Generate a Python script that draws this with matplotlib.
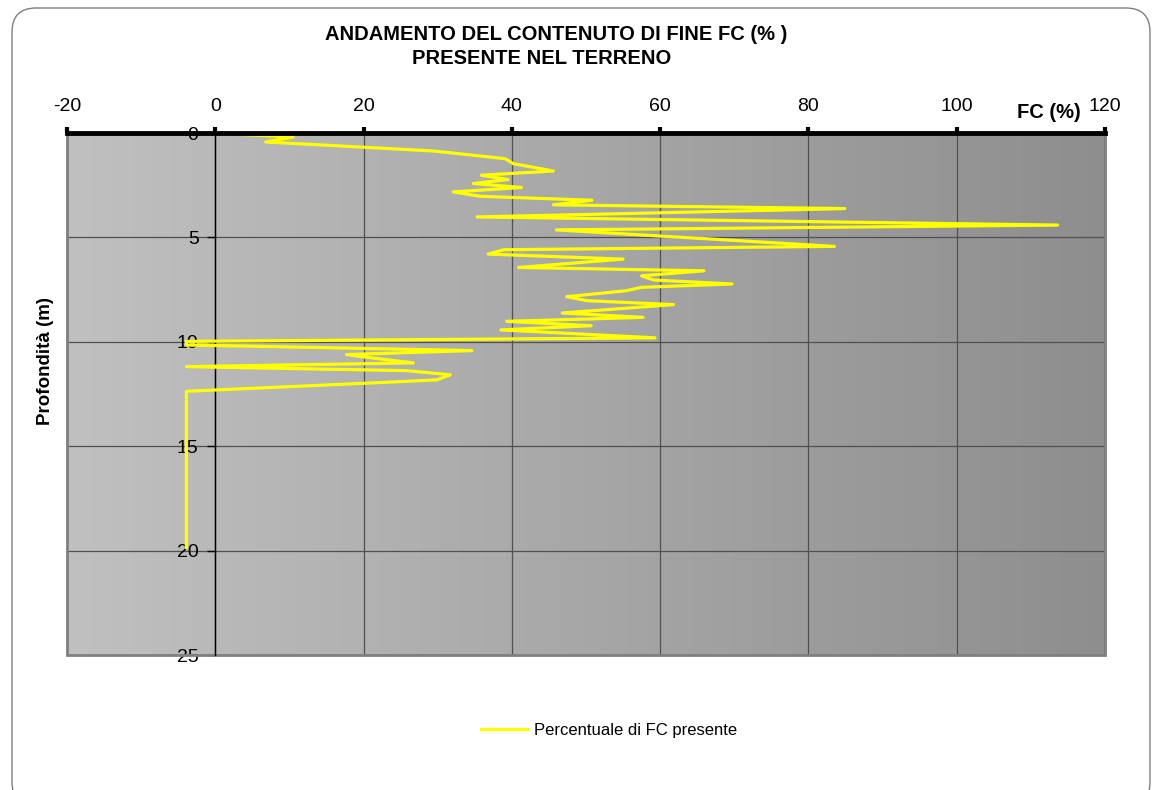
import numpy as np
import matplotlib
matplotlib.use("Agg")
import matplotlib.pyplot as plt
from matplotlib.patches import FancyBboxPatch, Rectangle
from matplotlib.colors import LinearSegmentedColormap

plt.rcParams['font.family'] = ['Liberation Sans', 'DejaVu Sans']
plt.rcParams['axes.unicode_minus'] = False

# Contenuto di fine FC (%) e profondità (m)
fc = [2.2, 10.5, 6.8, 29.4, 39.1, 40.2, 45.6, 35.9, 39.5, 34.8, 41.3, 32.1,
      35.7, 50.8, 45.6, 84.9, 35.3, 113.6, 46.0, 83.5, 38.9, 36.8, 55.0, 40.9,
      65.9, 57.5, 59.1, 69.7, 57.5, 55.5, 47.4, 50.1, 61.8, 46.8, 57.7, 39.3,
      50.7, 38.5, 59.3, -3.9, -3.9, 34.6, 17.7, 19.7, 26.7, -3.9, 25.8, 31.7,
      29.9, 23.6, -3.9, -3.9]
depth = [0.05, 0.19, 0.43, 0.86, 1.23, 1.47, 1.82, 2.02, 2.23, 2.42, 2.61, 2.82,
         3.03, 3.22, 3.44, 3.62, 4.02, 4.41, 4.64, 5.43, 5.59, 5.80, 6.04, 6.44,
         6.60, 6.84, 7.04, 7.23, 7.39, 7.55, 7.84, 8.03, 8.22, 8.62, 8.83, 9.02,
         9.23, 9.43, 9.81, 9.98, 10.15, 10.42, 10.61, 10.71, 11.01, 11.19, 11.38, 11.58,
         11.82, 11.93, 12.37, 19.85]

x_ticks = [-20, 0, 20, 40, 60, 80, 100, 120]
y_ticks = [0, 5, 10, 15, 20, 25]

W, H = 1153, 790
fig = plt.figure(figsize=(W / 100, H / 100), dpi=100)

# cornice arrotondata esterna (coordinate in pixel, origine in basso)
cornice = FancyBboxPatch((12, -16), 1138, 798, boxstyle="round,pad=0,rounding_size=24",
                         transform=None, facecolor='none', edgecolor='#7f7f7f', lw=1.0,
                         zorder=0)
fig.patches.append(cornice)

ax = fig.add_axes([67 / W, 1 - 655 / H, (1105 - 67) / W, (655 - 133) / H])
ax.set_xlim(-20, 120)
ax.set_ylim(25, 0)

# sfondo sfumato grigio
grad = np.linspace(0, 1, 256).reshape(1, -1)
cmap = LinearSegmentedColormap.from_list('grigio', ['#c0c0c0', '#8e8e8e'])
ax.imshow(grad, cmap=cmap, aspect='auto', extent=[-20, 120, 25, 0], zorder=0)

ax.grid(True, color='#505050', lw=0.9, zorder=1)
ax.set_axisbelow(True)

ax.plot(fc, depth, color='#ffff00', lw=2.3, zorder=3, label='Percentuale di FC presente')

ax.xaxis.tick_top()
ax.set_xticks(x_ticks)
ax.set_yticks(y_ticks)
ax.tick_params(axis='x', direction='out', length=4, width=3, pad=9, labelsize=14)
ax.tick_params(axis='y', direction='out', length=6, width=1, pad=6, labelsize=14)

for s in ['right', 'bottom']:
    ax.spines[s].set_visible(False)
ax.spines['left'].set_position(('data', 0))
ax.spines['left'].set_color('black')
ax.spines['left'].set_linewidth(1)
ax.spines['left'].set_zorder(2)
ax.spines['top'].set_linewidth(3.5)
ax.spines['top'].set_color('black')
ax.spines['top'].set_zorder(4)

# bordo grigio dell'area del grafico
ax.add_patch(Rectangle((0, 0), 1, 1, transform=ax.transAxes, fill=False,
                       edgecolor='#808080', lw=2, clip_on=False, zorder=2))

fig.text(556 / W, 1 - 35 / H, 'ANDAMENTO DEL CONTENUTO DI FINE FC (% )',
         ha='center', va='center', fontsize=14.5, fontweight='bold')
fig.text(542 / W, 1 - 58 / H, 'PRESENTE NEL TERRENO',
         ha='center', va='center', fontsize=14.5, fontweight='bold')
fig.text(1049 / W, 1 - 113 / H, 'FC (%)', ha='center', va='center',
         fontsize=14.5, fontweight='bold')
fig.text(45 / W, 1 - 361 / H, 'Profondità (m)', ha='center', va='center',
         rotation=90, fontsize=13.5, fontweight='bold')

ax.legend(loc='center', bbox_to_anchor=(609 / W, 1 - 730 / H), bbox_transform=fig.transFigure,
          frameon=False, fontsize=12, handlelength=2.8, handletextpad=0.4)

fig.savefig('out.png', dpi=100)
